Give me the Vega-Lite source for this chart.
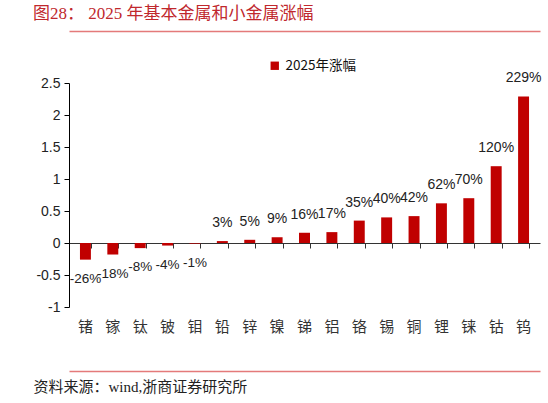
{
  "$schema": "https://vega.github.io/schema/vega-lite/v6.json",
  "width": 471,
  "height": 224,
  "autosize": {"type": "none"},
  "padding": {"left": 69, "top": 83, "right": 8, "bottom": 96},
  "title": {
    "text": "图28：  2025 年基本金属和小金属涨幅",
    "anchor": "start",
    "frame": "group",
    "dx": -36,
    "offset": 8,
    "fontSize": 17,
    "fontWeight": "normal",
    "font": "Liberation Serif, Noto Sans CJK SC",
    "color": "#C0282D"
  },
  "data": {
    "values": [
      {"metal": "锗", "value": -0.26, "label": "-26%"},
      {"metal": "镓", "value": -0.18, "label": "-18%"},
      {"metal": "钛", "value": -0.08, "label": "-8%"},
      {"metal": "铍", "value": -0.04, "label": "-4%"},
      {"metal": "钼", "value": -0.01, "label": "-1%"},
      {"metal": "铅", "value": 0.03, "label": "3%"},
      {"metal": "锌", "value": 0.05, "label": "5%"},
      {"metal": "镍", "value": 0.09, "label": "9%"},
      {"metal": "锑", "value": 0.16, "label": "16%"},
      {"metal": "铝", "value": 0.17, "label": "17%"},
      {"metal": "铬", "value": 0.35, "label": "35%"},
      {"metal": "锡", "value": 0.40, "label": "40%"},
      {"metal": "铜", "value": 0.42, "label": "42%"},
      {"metal": "锂", "value": 0.62, "label": "62%"},
      {"metal": "铼", "value": 0.70, "label": "70%"},
      {"metal": "钴", "value": 1.20, "label": "120%"},
      {"metal": "钨", "value": 2.29, "label": "229%"}
    ]
  },
  "encoding": {
    "y": {
      "field": "value",
      "type": "quantitative",
      "scale": {"domain": [-1, 2.5], "nice": false, "zero": false},
      "axis": {
        "values": [-1, -0.5, 0, 0.5, 1, 1.5, 2, 2.5],
        "labelExpr": "'' + datum.value",
        "labelOverlap": false,
        "labelFlush": false,
        "labelBound": false,
        "grid": false,
        "title": null,
        "domainColor": "#000",
        "tickColor": "#000",
        "tickSize": 5,
        "labelPadding": 4,
        "labelFontSize": 14,
        "labelFont": "Liberation Sans",
        "labelColor": "#222"
      }
    }
  },
  "layer": [
    {
      "mark": {"type": "bar"},
      "encoding": {
        "x": {
          "field": "metal",
          "type": "nominal",
          "sort": null,
          "scale": {"paddingInner": 0.6, "paddingOuter": 0.4},
          "axis": {
            "orient": "bottom",
            "offset": 64,
            "domainColor": "#E47A7A",
            "domainWidth": 1.5,
            "ticks": false,
            "labelPadding": -52,
            "labelAngle": 0,
            "labelFontSize": 15,
            "labelFont": "Noto Sans CJK SC",
            "labelColor": "#333",
            "title": "资料来源：wind,浙商证券研究所",
            "titleX": -36,
            "titleY": 20,
            "titleAnchor": "start",
            "titleAlign": "left",
            "titleBaseline": "alphabetic",
            "titleFontSize": 15,
            "titleFontWeight": "normal",
            "titleFont": "Liberation Serif, Noto Sans CJK SC",
            "titleColor": "#222"
          }
        },
        "color": {
          "datum": "2025年涨幅",
          "scale": {"range": ["#C00000"]},
          "legend": {
            "orient": "none",
            "legendX": 199,
            "legendY": -24,
            "title": null,
            "padding": 0,
            "symbolType": "square",
            "symbolSize": 70,
            "symbolStrokeWidth": 0,
            "labelFontSize": 13.5,
            "labelFont": "Noto Sans CJK SC",
            "labelColor": "#111"
          }
        }
      }
    },
    {
      "transform": [{"filter": "datum.value >= 0"}],
      "mark": {"type": "text", "baseline": "bottom", "dy": -11, "fontSize": 14, "font": "Liberation Sans", "color": "#222"},
      "encoding": {
        "x": {
          "field": "metal",
          "type": "nominal",
          "sort": null,
          "axis": {
            "orient": "top",
            "offset": 52,
            "domainColor": "#E47A7A",
            "domainWidth": 1.5,
            "ticks": false,
            "labels": false,
            "title": null
          }
        },
        "text": {"field": "label"}
      }
    },
    {
      "transform": [{"filter": "datum.value < 0"}],
      "mark": {"type": "text", "baseline": "top", "dy": 12, "fontSize": 13.5, "font": "Liberation Sans", "color": "#222"},
      "encoding": {
        "x": {
          "field": "metal",
          "type": "nominal",
          "sort": null,
          "axis": {
            "orient": "top",
            "offset": -160,
            "domainColor": "#333",
            "tickColor": "#333",
            "tickSize": -5,
            "tickBand": "extent",
            "labels": false,
            "title": null
          }
        },
        "text": {"field": "label"}
      }
    }
  ],
  "resolve": {"axis": {"x": "independent"}},
  "config": {"view": {"stroke": null}}
}
